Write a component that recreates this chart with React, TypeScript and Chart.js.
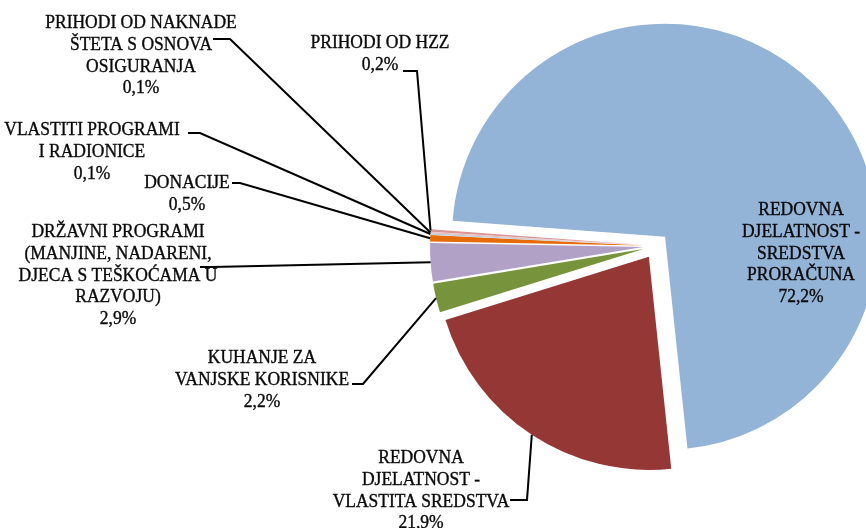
import React, { useEffect, useRef } from 'react';
import { Chart, registerables } from 'chart.js';

Chart.register(...registerables);

// ---- data ----
const categories = [
  'REDOVNA DJELATNOST - SREDSTVA PRORAČUNA',
  'REDOVNA DJELATNOST - VLASTITA SREDSTVA',
  'KUHANJE ZA VANJSKE KORISNIKE',
  'DRŽAVNI PROGRAMI (MANJINE, NADARENI, DJECA S TEŠKOĆAMA U RAZVOJU)',
  'DONACIJE',
  'VLASTITI PROGRAMI I RADIONICE',
  'PRIHODI OD NAKNADE ŠTETA S OSNOVA OSIGURANJA',
  'PRIHODI OD HZZ',
];
const labelLines = [
  ['REDOVNA', 'DJELATNOST -', 'SREDSTVA', 'PRORAČUNA'],
  ['REDOVNA', 'DJELATNOST -', 'VLASTITA SREDSTVA'],
  ['KUHANJE ZA', 'VANJSKE KORISNIKE'],
  ['DRŽAVNI PROGRAMI', '(MANJINE, NADARENI,', 'DJECA S TEŠKOĆAMA U', 'RAZVOJU)'],
  ['DONACIJE'],
  ['VLASTITI PROGRAMI', 'I RADIONICE'],
  ['PRIHODI OD NAKNADE', 'ŠTETA S OSNOVA', 'OSIGURANJA'],
  ['PRIHODI OD HZZ'],
];
const shares = [72.2, 21.9, 2.2, 2.9, 0.5, 0.1, 0.1, 0.2];
const sliceColors = ['#93B3D7', '#953735', '#77933C', '#B2A1C7', '#E46C0A', '#B9CDE5', '#E6B9B8', '#D99694'];

// ---- layout / style (not data) ----
const W = 866;
const H = 528;
const EXPLODE = 13;
const LINE_H = 21.8;
const FONT = '17.5px "Liberation Serif", serif';
const TEXT_COLOR = '#0a0a0a';
const TEXT_SCALE_Y = 1.1;
// text centre x, first baseline y, leader [startX, y, elbowX] or null
const labelLayout = [
  { x: 801, y: 215, leader: null },
  { x: 421, y: 463, leader: [510, 500, 527] },
  { x: 262, y: 363, leader: [352, 384, 363] },
  { x: 118, y: 237, leader: [200, 267, 212] },
  { x: 187, y: 188, leader: [232, 183, 240] },
  { x: 92, y: 135, leader: [188, 133, 200] },
  { x: 141, y: 28, leader: [213, 39, 230] },
  { x: 380, y: 48, leader: [403, 71, 417] },
];

const fmtPct = (v: number) => v.toFixed(1).replace('.', ',') + '%';

const explodePlugin = {
  id: 'explodeArcs',
  beforeDatasetDraw(chart: any, args: any) {
    const ctx = chart.ctx;
    args.meta.data.forEach((arc: any) => {
      const { startAngle, endAngle } = arc.getProps(['startAngle', 'endAngle'], true);
      const mid = (startAngle + endAngle) / 2;
      ctx.save();
      ctx.translate(Math.cos(mid) * EXPLODE, Math.sin(mid) * EXPLODE);
      arc.draw(ctx);
      ctx.restore();
    });
    return false;
  },
};

const labelPlugin = {
  id: 'sliceLabels',
  afterDatasetsDraw(chart: any) {
    const ctx = chart.ctx;
    const meta = chart.getDatasetMeta(0);
    ctx.save();
    // leader lines
    ctx.strokeStyle = '#000000';
    ctx.lineWidth = 2;
    ctx.lineJoin = 'miter';
    meta.data.forEach((arc: any, i: number) => {
      const lay = labelLayout[i];
      if (!lay || !lay.leader) return;
      const { x, y, startAngle, endAngle, outerRadius } = arc.getProps(
        ['x', 'y', 'startAngle', 'endAngle', 'outerRadius'],
        true
      );
      const mid = (startAngle + endAngle) / 2;
      const px = x + Math.cos(mid) * (outerRadius + EXPLODE);
      const py = y + Math.sin(mid) * (outerRadius + EXPLODE);
      const [sx, ly, ex] = lay.leader;
      ctx.beginPath();
      ctx.moveTo(sx, ly);
      ctx.lineTo(ex, ly);
      ctx.lineTo(px, py);
      ctx.stroke();
    });
    // texts
    ctx.font = FONT;
    ctx.fillStyle = TEXT_COLOR;
    ctx.strokeStyle = TEXT_COLOR;
    ctx.lineWidth = 0.35;
    ctx.textAlign = 'center';
    ctx.textBaseline = 'alphabetic';
    labelLayout.forEach((lay, i) => {
      const lines = [...labelLines[i], fmtPct(shares[i])];
      lines.forEach((t, k) => {
        ctx.save();
        ctx.translate(lay.x, lay.y + k * LINE_H);
        ctx.scale(1, TEXT_SCALE_Y);
        ctx.fillText(t, 0, 0);
        ctx.strokeText(t, 0, 0);
        ctx.restore();
      });
    });
    ctx.restore();
  },
};

export default function App() {
  const ref = useRef<HTMLCanvasElement | null>(null);
  useEffect(() => {
    if (!ref.current) return;
    const chart = new Chart(ref.current, {
      type: 'pie',
      data: {
        labels: categories,
        datasets: [
          {
            data: shares,
            backgroundColor: sliceColors,
            borderWidth: 0,
            clip: false as any,
          },
        ],
      },
      options: {
        responsive: false,
        animation: false,
        devicePixelRatio: 1,
        rotation: -85.7,
        radius: 213,
        layout: { padding: { left: 446, right: 0, top: 0, bottom: 36 } },
        plugins: {
          legend: { display: false },
          tooltip: { enabled: false },
        },
        events: [],
      },
      plugins: [explodePlugin, labelPlugin],
    });
    return () => chart.destroy();
  }, []);
  return (
    <div style={{ position: 'fixed', left: 0, top: 0, width: W, height: H, background: '#ffffff' }}>
      <canvas ref={ref} width={W} height={H} style={{ display: 'block', width: W, height: H }} />
    </div>
  );
}
